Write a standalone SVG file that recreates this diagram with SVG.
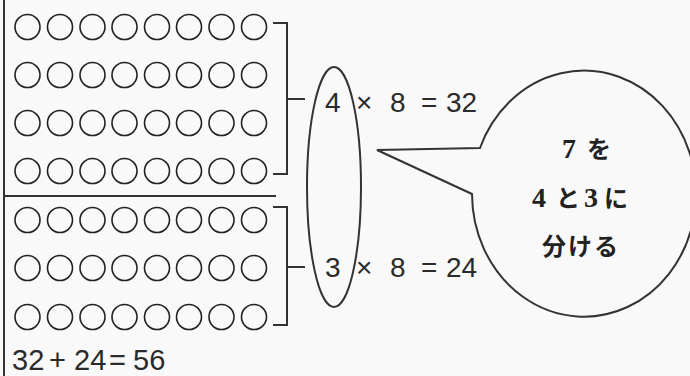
<svg xmlns="http://www.w3.org/2000/svg" width="690" height="376" viewBox="0 0 690 376">
<style>
.ln{fill:none;stroke:#333;stroke-width:2}
.dot{fill:none;stroke:#222;stroke-width:1.6}
.eq{font-family:"Liberation Sans",Arial,sans-serif;font-size:28px;fill:#2a2a2a}
.bt{font-family:"Liberation Serif","Noto Sans CJK JP",serif;font-weight:bold;font-size:24px;fill:#222}
.dg{font-size:28px}
</style>
<defs>
<g id="row">
<circle class="dot" cx="27.5" cy="0" r="12.5"/>
<circle class="dot" cx="60" cy="0" r="12.5"/>
<circle class="dot" cx="92.5" cy="0" r="12.5"/>
<circle class="dot" cx="124.5" cy="0" r="12.5"/>
<circle class="dot" cx="157" cy="0" r="12.5"/>
<circle class="dot" cx="189" cy="0" r="12.5"/>
<circle class="dot" cx="221.5" cy="0" r="12.5"/>
<circle class="dot" cx="254" cy="0" r="12.5"/>
</g>
</defs>
<rect width="690" height="376" fill="#f9f9f9"/>
<g id="frame">
<line class="ln" x1="4" y1="0" x2="4" y2="376"/>
<line class="ln" x1="4" y1="196" x2="276" y2="196"/>
</g>
<g id="top-dots">
<use href="#row" y="27"/>
<use href="#row" y="75"/>
<use href="#row" y="123"/>
<use href="#row" y="171"/>
</g>
<g id="bottom-dots">
<use href="#row" y="220"/>
<use href="#row" y="268"/>
<use href="#row" y="317"/>
</g>
<g id="connectors">
<path class="ln" d="M273 23 H287 V174 H273 M287 99 H305"/>
<path class="ln" d="M273 207 H287 V325 H273 M287 267 H305"/>
</g>
<g id="ellipse">
<ellipse class="ln" cx="334" cy="187" rx="27" ry="120"/>
</g>
<g id="eq1" class="eq">
<text x="325" y="112">4</text>
<text x="356" y="112">×</text>
<text x="390" y="112">8</text>
<text x="421" y="112">=</text>
<text x="446" y="112">32</text>
</g>
<g id="eq2" class="eq">
<text x="325" y="277">3</text>
<text x="356" y="277">×</text>
<text x="390" y="277">8</text>
<text x="421" y="277">=</text>
<text x="446" y="277">24</text>
</g>
<g id="sum" class="eq">
<text x="12" y="370" font-size="29">32</text>
<text x="49" y="370" font-size="29">+</text>
<text x="74" y="370" font-size="29">24</text>
<text x="109" y="370" font-size="29">=</text>
<text x="133" y="370" font-size="29">56</text>
</g>
<g id="bubble">
<path class="ln" d="M480 148 L377 150 L472 194 A112 123 0 1 0 480 148 Z" fill="#f9f9f9"/>
<text class="bt" y="158"><tspan class="dg" x="562">7</tspan><tspan x="587">を</tspan></text>
<text class="bt" y="207"><tspan class="dg" x="532">4</tspan><tspan x="556">と</tspan><tspan class="dg" x="584">3</tspan><tspan x="604">に</tspan></text>
<text class="bt" x="542" y="255" letter-spacing="2">分ける</text>
</g>
</svg>
